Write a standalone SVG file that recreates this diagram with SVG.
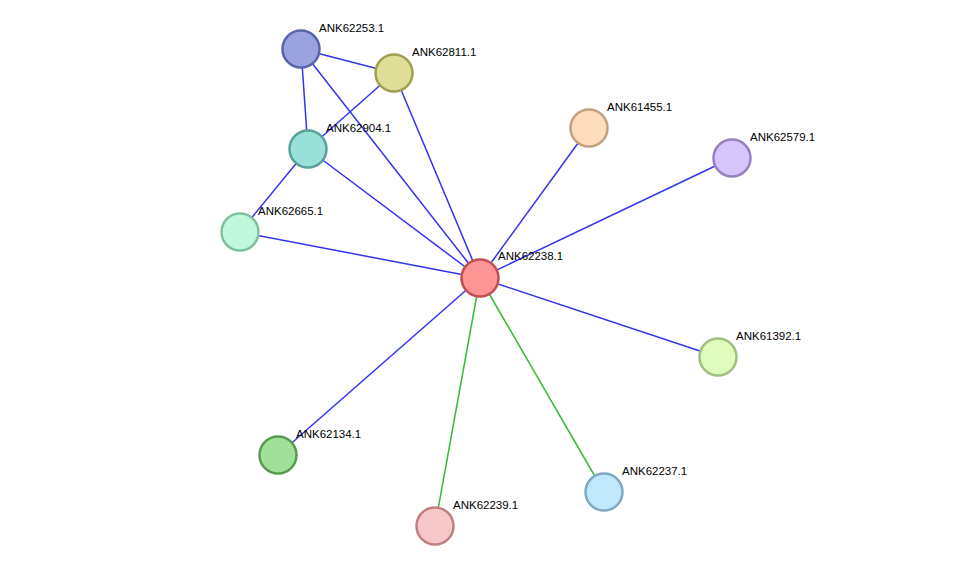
<svg xmlns="http://www.w3.org/2000/svg" width="976" height="572" viewBox="0 0 976 572">
<style>
.e{stroke:#3333ee;stroke-width:1.5;fill:none}
.g{stroke:#33bb33;stroke-width:1.5;fill:none}
circle{stroke-width:2.5}
text{font-family:"Liberation Sans",Arial,sans-serif;font-size:11.5px;fill:#000}
</style>
<rect width="976" height="572" fill="#fff"/>
<g id="connectors">
<line class="e" x1="301" y1="49" x2="394" y2="73"/>
<line class="e" x1="301" y1="49" x2="308" y2="149"/>
<line class="e" x1="301" y1="49" x2="480" y2="278"/>
<line class="e" x1="394" y1="73" x2="308" y2="149"/>
<line class="e" x1="394" y1="73" x2="480" y2="278"/>
<line class="e" x1="308" y1="149" x2="240" y2="232"/>
<line class="e" x1="308" y1="149" x2="480" y2="278"/>
<line class="e" x1="240" y1="232" x2="480" y2="278"/>
<line class="e" x1="480" y1="278" x2="589" y2="128"/>
<line class="e" x1="480" y1="278" x2="732" y2="158"/>
<line class="e" x1="480" y1="278" x2="718" y2="357"/>
<line class="e" x1="480" y1="278" x2="278" y2="455"/>
<line class="g" x1="480" y1="278" x2="435" y2="526"/>
<line class="g" x1="480" y1="278" x2="604" y2="492"/>
</g>
<g id="ANK62253.1"><circle cx="301" cy="49" r="18.5" fill="#9aa3e0" stroke="#5a63a8"/><text x="319" y="32">ANK62253.1</text></g>
<g id="ANK62811.1"><circle cx="394" cy="73" r="18.5" fill="#dede98" stroke="#a0a050"/><text x="412" y="56">ANK62811.1</text></g>
<g id="ANK62904.1"><circle cx="308" cy="149" r="18.5" fill="#98e0d8" stroke="#58a098"/><text x="326" y="132">ANK62904.1</text></g>
<g id="ANK62665.1"><circle cx="240" cy="232" r="18.5" fill="#bff8dc" stroke="#80c0a0"/><text x="258" y="215">ANK62665.1</text></g>
<g id="ANK62238.1"><circle cx="480" cy="278" r="18.5" fill="#ff9494" stroke="#c05050"/><text x="498" y="260">ANK62238.1</text></g>
<g id="ANK61455.1"><circle cx="589" cy="128" r="18.5" fill="#ffdcbc" stroke="#c0a080"/><text x="607" y="111">ANK61455.1</text></g>
<g id="ANK62579.1"><circle cx="732" cy="158" r="18.5" fill="#d6c4fc" stroke="#9680c0"/><text x="750" y="141">ANK62579.1</text></g>
<g id="ANK61392.1"><circle cx="718" cy="357" r="18.5" fill="#e0fcbc" stroke="#a0c080"/><text x="736" y="340">ANK61392.1</text></g>
<g id="ANK62134.1"><circle cx="278" cy="455" r="18.5" fill="#a0e098" stroke="#5a9a50"/><text x="296" y="438">ANK62134.1</text></g>
<g id="ANK62239.1"><circle cx="435" cy="526" r="18.5" fill="#f8c8c8" stroke="#c08080"/><text x="453" y="509">ANK62239.1</text></g>
<g id="ANK62237.1"><circle cx="604" cy="492" r="18.5" fill="#c0e8fc" stroke="#80a8c0"/><text x="622" y="475">ANK62237.1</text></g>
</svg>
